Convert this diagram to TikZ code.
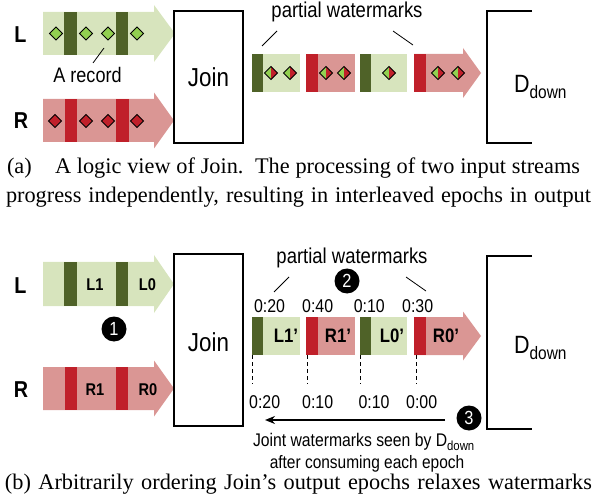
\documentclass[tikz,border=0pt]{standalone}
\usepackage{fontspec}
\setmainfont{Liberation Serif}
\setsansfont{Liberation Sans}
\newfontfamily\nsans[FakeStretch=0.86]{Liberation Sans}
\usetikzlibrary{arrows.meta}
\definecolor{lgreen}{HTML}{D7E4BD}
\definecolor{dgreen}{HTML}{4F6228}
\definecolor{pinkc}{HTML}{DA9694}
\definecolor{redc}{HTML}{C0202A}
\definecolor{dgreenA}{HTML}{92D050}
\newcommand\fsz[1]{\fontsize{#1}{#1}\selectfont}
\newcommand\sarrow[7]{\fill[#1] (#2,#5) -- (#3,#5) -- (#3,#5-#7) -- (#4,{(#5+#6)/2}) -- (#3,#6+#7) -- (#3,#6) -- (#2,#6) -- cycle;}
\tikzset{
  gd/.pic={\filldraw[fill=dgreenA,draw=black,line width=0.9] (-6.5,0)--(0,-6.5)--(6.5,0)--(0,6.5)--cycle;},
  rd/.pic={\filldraw[fill=redc,draw=black,line width=0.9] (-6.5,0)--(0,-6.5)--(6.5,0)--(0,6.5)--cycle;},
  md/.pic={\fill[dgreenA] (-6.5,0)--(0,-6.5)--(0,6.5)--cycle;
           \fill[redc] (0,-6.5)--(6.5,0)--(0,6.5)--cycle;
           \draw[black,line width=0.9] (-6.5,0)--(0,-6.5)--(6.5,0)--(0,6.5)--cycle;},
  txt/.style={inner sep=0pt, outer sep=0pt, anchor=base, font=\nsans\fsz{18}},
  side/.style={txt, font=\nsans\bfseries\fsz{23}},
  blab/.style={txt, font=\nsans\bfseries\fsz{17}},
  oblab/.style={txt, font=\nsans\bfseries\fsz{19.5}},
  num/.style={txt, font=\nsans\fsz{18.5}},
  joinbox/.style={draw=black, line width=2.6pt},
  bracket/.style={draw=black, line width=2pt},
  leader/.style={draw=black, line width=0.8pt},
  circ/.style={circle, fill=black, minimum size=25pt, inner sep=0pt, text=white, font=\nsans\fsz{19}},
  captext/.style={inner sep=0pt, outer sep=0pt, font=\fsz{22.3}},
}
\begin{document}
\begin{tikzpicture}[x=1pt,y=-1pt]
\useasboundingbox (0,0) rectangle (596,502);
% ================= panel (a) =================
\sarrow{lgreen}{43}{154}{175}{12}{55}{7}
\sarrow{pinkc}{43}{154}{174}{99}{142}{6.5}
\fill[dgreen] (64,12) rectangle (77,55);
\fill[dgreen] (116,12) rectangle (128,55);
\fill[redc] (65,99) rectangle (77,142);
\fill[redc] (116,99) rectangle (129,142);
\foreach \x in {56,86,108,137} \pic at (\x,33.5) {gd};
\foreach \x in {55,86,108,137} \pic at (\x,121) {rd};
\node[side] (La) at (20.5,43) {L};
\node[side] (Ra) at (21,129) {R};
\node[txt, font=\nsans\fsz{21}] (rec) at (87.5,83) {A record};
\coordinate (recA) at (104,48); \coordinate (recB) at (93,63);
\draw[leader] (recA) -- (recB);
\draw[joinbox] (174,11) rectangle (243,143);
\node[txt, font=\nsans\fsz{26}] (joina) at (208.5,87) {Join};
% output stream
\fill[lgreen] (252,54) rectangle (300,92);
\fill[dgreen] (252,54) rectangle (263,92);
\fill[pinkc] (306,54) rectangle (355,92);
\fill[redc] (306,54) rectangle (318,92);
\fill[lgreen] (360,54) rectangle (407,92);
\fill[dgreen] (360,54) rectangle (371,92);
\sarrow{pinkc}{414}{463}{481}{54}{92}{6}
\fill[redc] (414,54) rectangle (426,92);
\foreach \x in {271,290,326,344,389,438,458} \pic at (\x,73) {md};
\node[txt, font=\nsans\fsz{21.5}] (pwa) at (347,18) {partial watermarks};
\coordinate (pa1) at (277,31); \coordinate (pa2) at (262,46);
\coordinate (pa3) at (393,31); \coordinate (pa4) at (413,45);
\draw[leader] (pa1) -- (pa2);
\draw[leader] (pa3) -- (pa4);
\coordinate (da1) at (532,11); \coordinate (da2) at (487,11);
\coordinate (da3) at (487,143); \coordinate (da4) at (532,143);
\draw[bracket] (da1) -- (da2) -- (da3) -- (da4);
\node[txt, anchor=base west, font=\nsans\fsz{25}] (Da) at (514,93) {D\raisebox{-6pt}{\fsz{18}down}};
% caption (a)
\node[captext, anchor=base west] (capa1) at (7,174) {(a)};
\node[captext, anchor=base west] (capa2) at (55,174) {\makebox[525pt][s]{A logic view of Join.\ \ The processing of two input streams}};
\node[captext, anchor=base west] (capa4) at (6,203) {\makebox[585pt][s]{progress independently, resulting in interleaved epochs in output}};
% ================= panel (b) =================
\sarrow{lgreen}{43}{154}{174}{262}{306}{7}
\sarrow{pinkc}{43}{154}{174}{367}{410}{6.5}
\fill[dgreen] (64,262) rectangle (77,306);
\fill[dgreen] (116,262) rectangle (128,306);
\fill[redc] (65,367) rectangle (77,410);
\fill[redc] (116,367) rectangle (128,410);
\node[side] (Lb) at (20.5,293) {L};
\node[side] (Rb) at (21,397) {R};
\node[blab] (l1) at (95,290) {L1};
\node[blab] (l0) at (147.5,290) {L0};
\node[blab] (r1) at (95,395) {R1};
\node[blab] (r0) at (148,395) {R0};
\node[circ] (c1) at (114,329) {1};
\draw[joinbox] (174,254) rectangle (243,426);
\node[txt, font=\nsans\fsz{26}] (joinb) at (208.5,351) {Join};
% output stream
\fill[lgreen] (252,317) rectangle (300,355);
\fill[dgreen] (252,317) rectangle (263,355);
\fill[pinkc] (306,317) rectangle (355,355);
\fill[redc] (306,317) rectangle (318,355);
\fill[lgreen] (360,317) rectangle (407,355);
\fill[dgreen] (360,317) rectangle (371,355);
\sarrow{pinkc}{414}{463}{481}{317}{355}{5.5}
\fill[redc] (414,317) rectangle (426,355);
\node[oblab] (l1p) at (286,342) {L1’};
\node[oblab] (r1p) at (338,342) {R1’};
\node[oblab] (l0p) at (392,342) {L0’};
\node[oblab] (r0p) at (446,342) {R0’};
\node[num] (t1) at (269.5,312) {0:20};
\node[num] (t2) at (317.7,312) {0:40};
\node[num] (t3) at (369.3,312) {0:10};
\node[num] (t4) at (417.7,312) {0:30};
\node[num] (b1) at (264.7,408) {0:20};
\node[num] (b2) at (317.7,408) {0:10};
\node[num] (b3) at (374,408) {0:10};
\node[num] (b4) at (421.7,408) {0:00};
\foreach \x in {252.7,307.3,360.7,416.7} \draw[black, line width=0.8pt, dash pattern=on 4pt off 3pt] (\x,355) -- (\x,384);
\node[txt, font=\nsans\fsz{21.5}] (pwb) at (352,263) {partial watermarks};
\coordinate (pb1) at (289,277); \coordinate (pb2) at (274,292);
\coordinate (pb3) at (406,277); \coordinate (pb4) at (426,291);
\draw[leader] (pb1) -- (pb2);
\draw[leader] (pb3) -- (pb4);
\node[circ] (c2) at (347,281) {2};
\coordinate (ar1) at (445,420); \coordinate (ar2) at (265,420);
\draw[black, line width=1.3pt, -{Stealth[length=10pt,width=8pt]}] (ar1) -- (ar2);
\node[circ] (c3) at (469,418) {3};
\coordinate (db1) at (532,256); \coordinate (db2) at (487,256);
\coordinate (db3) at (487,429); \coordinate (db4) at (532,429);
\draw[bracket] (db1) -- (db2) -- (db3) -- (db4);
\node[txt, anchor=base west, font=\nsans\fsz{25}] (Db) at (514,353) {D\raisebox{-6pt}{\fsz{18}down}};
\node[txt, anchor=base west, font=\nsans\fsz{18.3}] (jw) at (253,446) {Joint watermarks seen by D\raisebox{-4pt}{\fsz{13.2}down}};
\node[txt] (ac) at (367,468) {after consuming each epoch};
% caption (b)
\node[captext, anchor=base west] (capb) at (5,489) {\makebox[587pt][s]{(b) Arbitrarily ordering Join’s output epochs relaxes watermarks}};
\end{tikzpicture}
\end{document}
